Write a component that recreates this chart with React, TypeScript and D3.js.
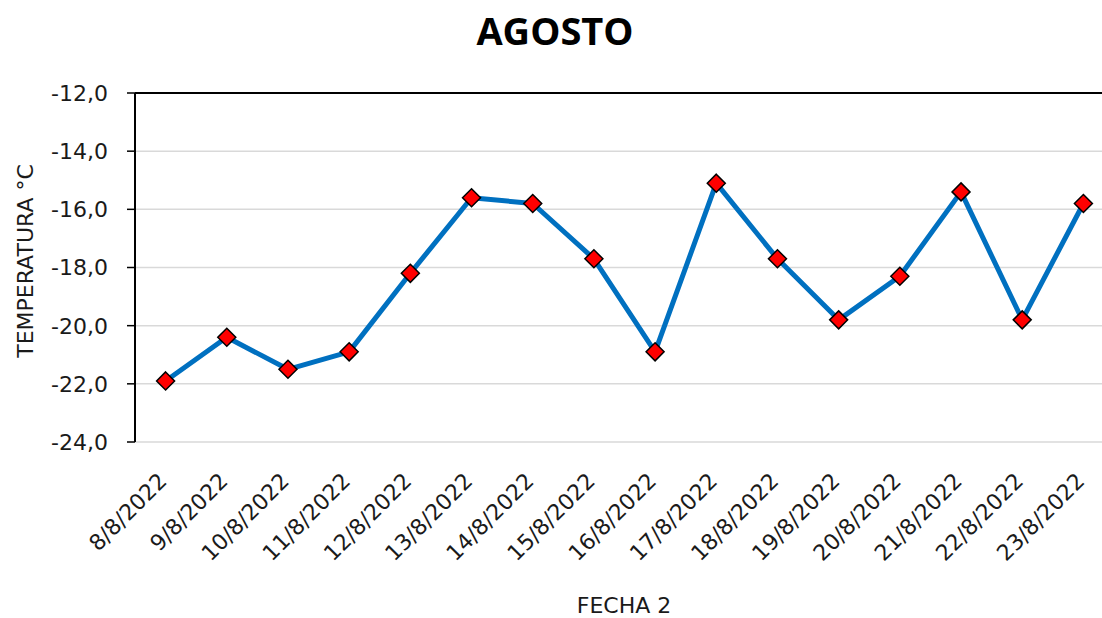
import React from "react";
import * as d3 from "d3";

const categories = ["8/8/2022","9/8/2022","10/8/2022","11/8/2022","12/8/2022","13/8/2022","14/8/2022","15/8/2022","16/8/2022","17/8/2022","18/8/2022","19/8/2022","20/8/2022","21/8/2022","22/8/2022","23/8/2022"];
const temperatures = [-21.9,-20.4,-21.5,-20.9,-18.2,-15.6,-15.8,-17.7,-20.9,-15.1,-17.7,-19.8,-18.3,-15.4,-19.8,-15.8];
const yTicks = [-24,-22,-20,-18,-16,-14,-12];

const W = 1102, H = 618;
const FONT = "'DejaVu Sans', sans-serif";
const TITLE_FONT = "'Open Sans', sans-serif";

export default function App() {
  const left = 135, right = 1114, top = 93, bottom = 442;
  const x = d3.scaleBand<string>().domain(categories).range([left, right]);
  const y = d3.scaleLinear().domain([-24, -12]).range([bottom, top]);
  const cx = (c: string) => (x(c) as number) + x.bandwidth() / 2;
  const line = d3.line<number>().x((_, i) => cx(categories[i])).y((d) => y(d));
  const fmt = (v: number) => v.toFixed(1).replace(".", ",");
  const r = 9;
  return (
    <svg width={W} height={H} style={{ display: "block", position: "absolute", left: 0, top: 0, background: "#fff" }} fontFamily={FONT}>
      <rect x={0} y={0} width={W} height={H} fill="#fff" />
      <text x={555} y={45} textAnchor="middle" fontSize={38} fontWeight="bold" fontFamily={TITLE_FONT} fill="#000">AGOSTO</text>
      {yTicks.map((t) => (
        <g key={t}>
          {t !== -12 && <line x1={left} x2={right} y1={y(t)} y2={y(t)} stroke="#d9d9d9" strokeWidth={1.5} />}
          <line x1={left - 8} x2={left} y1={y(t)} y2={y(t)} stroke="#000" strokeWidth={1.5} />
          <text x={left - 27} y={y(t)} dy="0.36em" textAnchor="end" fontSize={22} fill="#1a1a1a">{fmt(t)}</text>
        </g>
      ))}
      <line x1={left} x2={right} y1={top} y2={top} stroke="#000" strokeWidth={2} />
      <line x1={left} x2={left} y1={top} y2={bottom} stroke="#000" strokeWidth={2} />
      {categories.map((c) => (
        <text key={c} transform={`translate(${cx(c) - 3},${bottom + 35}) rotate(-45)`} textAnchor="end" dy="0.35em" fontSize={22} fill="#1a1a1a">{c}</text>
      ))}
      <path d={line(temperatures) || ""} fill="none" stroke="#0070C0" strokeWidth={5} strokeLinejoin="round" />
      {temperatures.map((v, i) => {
        const px = cx(categories[i]), py = y(v);
        return <path key={i} d={`M${px},${py - r}L${px + r},${py}L${px},${py + r}L${px - r},${py}Z`} fill="#ff0000" stroke="#000" strokeWidth={1.5} />;
      })}
      <text transform={`translate(33,261) rotate(-90)`} textAnchor="middle" fontSize={22} fill="#1a1a1a">TEMPERATURA °C</text>
      <text x={624} y={613} textAnchor="middle" fontSize={22} fill="#1a1a1a">FECHA 2</text>
    </svg>
  );
}
